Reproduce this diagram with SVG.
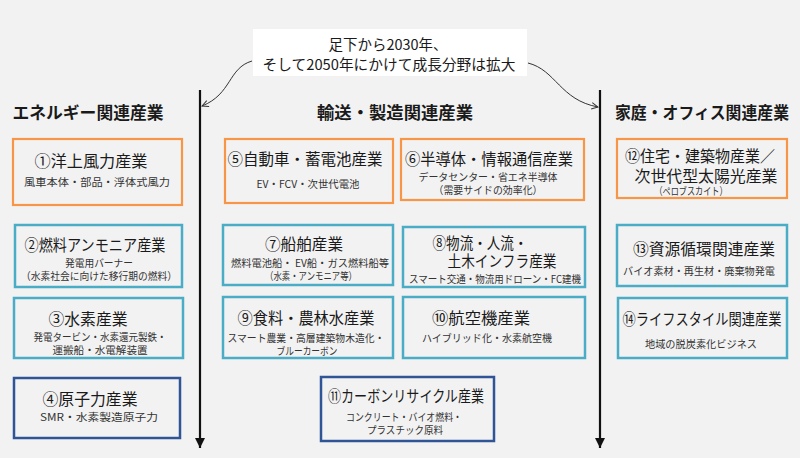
<svg xmlns="http://www.w3.org/2000/svg" width="800" height="458" viewBox="0 0 800 458">
<defs>
<style>
text{font-family:"Noto Sans CJK JP","Noto Sans",sans-serif;fill:#1a1a1a;text-anchor:middle;dominant-baseline:central}
.sec{font-size:16.5px;font-weight:bold}
.t{font-size:15.5px}
.s{font-size:10.5px;fill:#333}
.c{font-size:14.5px}
.o{fill:none;stroke:#f79646;stroke-width:2.2}
.b{fill:none;stroke:#4bacc6;stroke-width:2.5}
.d{fill:none;stroke:#2f5597;stroke-width:2.5}
.axis{stroke:#111;stroke-width:2.2;fill:none}
.curve{stroke:#333;stroke-width:1;fill:none}
</style>
<marker id="down" viewBox="0 0 10 10" refX="10" refY="5" markerWidth="10" markerHeight="10" markerUnits="userSpaceOnUse" orient="auto">
<path d="M0,0 L10,5 L0,10 Z" fill="#111"/>
</marker>
<marker id="open" viewBox="0 0 10 10" refX="9" refY="5" markerWidth="8" markerHeight="8" markerUnits="userSpaceOnUse" orient="auto">
<path d="M1,1 L9,5 L1,9" fill="none" stroke="#333" stroke-width="1.2"/>
</marker>
</defs>
<rect width="800" height="458" fill="#f2f2f2"/>

<g id="connectors">
<path class="axis" d="M200,90 V448" marker-end="url(#down)"/>
<path class="axis" d="M600,90 V448" marker-end="url(#down)"/>
<path class="curve" d="M252,61 C228,68 232,94 202,106" marker-end="url(#open)"/>
<path class="curve" d="M528,63 C556,70 560,100 598,107" marker-end="url(#open)"/>
</g>

<g id="callout">
<rect x="253" y="29" width="274" height="47" fill="#ffffff"/>
<text class="c" x="388" y="43" textLength="119" lengthAdjust="spacingAndGlyphs">足下から2030年、</text>
<text class="c" x="389" y="63" textLength="253" lengthAdjust="spacingAndGlyphs">そして2050年にかけて成長分野は拡大</text>
</g>

<g id="sec-energy"><text class="sec" x="88" y="112" textLength="151" lengthAdjust="spacingAndGlyphs">エネルギー関連産業</text></g>
<g id="sec-transport"><text class="sec" x="395" y="112" textLength="156" lengthAdjust="spacingAndGlyphs">輸送・製造関連産業</text></g>
<g id="sec-home"><text class="sec" x="702" y="112" textLength="174" lengthAdjust="spacingAndGlyphs">家庭・オフィス関連産業</text></g>

<g id="n1">
<rect class="o" x="13" y="139" width="169" height="66"/>
<text class="t" x="91" y="160" textLength="113" lengthAdjust="spacingAndGlyphs">①洋上風力産業</text>
<text class="s" x="97" y="181" textLength="146" lengthAdjust="spacingAndGlyphs">風車本体・部品・浮体式風力</text>
</g>
<g id="n2">
<rect class="b" x="15" y="225" width="167" height="62"/>
<text class="t" x="95" y="244" textLength="141" lengthAdjust="spacingAndGlyphs">②燃料アンモニア産業</text>
<text class="s" x="99" y="262" textLength="68" lengthAdjust="spacingAndGlyphs">発電用バーナー</text>
<text class="s" x="99" y="275" textLength="156" lengthAdjust="spacingAndGlyphs">（水素社会に向けた移行期の燃料）</text>
</g>
<g id="n3">
<rect class="b" x="14" y="298" width="169" height="60"/>
<text class="t" x="88" y="318" textLength="79" lengthAdjust="spacingAndGlyphs">③水素産業</text>
<text class="s" x="100" y="336" textLength="133" lengthAdjust="spacingAndGlyphs">発電タービン・水素還元製鉄・</text>
<text class="s" x="100" y="349" textLength="95" lengthAdjust="spacingAndGlyphs">運搬船・水電解装置</text>
</g>
<g id="n4">
<rect class="d" x="14" y="378" width="166" height="60"/>
<text class="t" x="90" y="398" textLength="95" lengthAdjust="spacingAndGlyphs">④原子力産業</text>
<text class="s" x="99" y="416" textLength="118" lengthAdjust="spacingAndGlyphs">SMR・水素製造原子力</text>
</g>

<g id="n5">
<rect class="o" x="225" y="139" width="168" height="64"/>
<text class="t" x="305" y="158" textLength="155" lengthAdjust="spacingAndGlyphs">⑤自動車・蓄電池産業</text>
<text class="s" x="308" y="183" textLength="103" lengthAdjust="spacingAndGlyphs">EV・FCV・次世代電池</text>
</g>
<g id="n6">
<rect class="o" x="401" y="139" width="183" height="61"/>
<text class="t" x="489" y="158" textLength="168" lengthAdjust="spacingAndGlyphs">⑥半導体・情報通信産業</text>
<text class="s" x="488" y="176" textLength="139" lengthAdjust="spacingAndGlyphs">データセンター・省エネ半導体</text>
<text class="s" x="488" y="189" textLength="109" lengthAdjust="spacingAndGlyphs">（需要サイドの効率化）</text>
</g>
<g id="n7">
<rect class="b" x="223" y="225" width="170" height="60"/>
<text class="t" x="304" y="243" textLength="78" lengthAdjust="spacingAndGlyphs">⑦船舶産業</text>
<text class="s" x="310" y="262" textLength="158" lengthAdjust="spacingAndGlyphs">燃料電池船・ EV船・ガス燃料船等</text>
<text class="s" x="311" y="275" textLength="92" lengthAdjust="spacingAndGlyphs">（水素・アンモニア等）</text>
</g>
<g id="n8">
<rect class="b" x="403" y="227" width="182" height="60"/>
<text class="t" x="480" y="242" textLength="95" lengthAdjust="spacingAndGlyphs">⑧物流・人流・</text>
<text class="t" x="502" y="260" textLength="109" lengthAdjust="spacingAndGlyphs">土木インフラ産業</text>
<text class="s" x="495" y="278" textLength="172" lengthAdjust="spacingAndGlyphs">スマート交通・物流用ドローン・FC建機</text>
</g>
<g id="n9">
<rect class="b" x="223" y="297" width="170" height="61"/>
<text class="t" x="306" y="317" textLength="137" lengthAdjust="spacingAndGlyphs">⑨食料・農林水産業</text>
<text class="s" x="306" y="337" textLength="157" lengthAdjust="spacingAndGlyphs">スマート農業・高層建築物木造化・</text>
<text class="s" x="307" y="350" textLength="61" lengthAdjust="spacingAndGlyphs">ブルーカーボン</text>
</g>
<g id="n10">
<rect class="b" x="403" y="297" width="182" height="61"/>
<text class="t" x="481" y="317" textLength="98" lengthAdjust="spacingAndGlyphs">⑩航空機産業</text>
<text class="s" x="487" y="337" textLength="130" lengthAdjust="spacingAndGlyphs">ハイブリッド化・水素航空機</text>
</g>
<g id="n11">
<rect class="d" x="321" y="377" width="173" height="64"/>
<text class="t" x="406" y="395" textLength="156" lengthAdjust="spacingAndGlyphs">⑪カーボンリサイクル産業</text>
<text class="s" x="404" y="416" textLength="116" lengthAdjust="spacingAndGlyphs">コンクリート・バイオ燃料・</text>
<text class="s" x="405" y="429" textLength="76" lengthAdjust="spacingAndGlyphs">プラスチック原料</text>
</g>

<g id="n12">
<rect class="o" x="617" y="139" width="170" height="59"/>
<text class="t" x="700" y="155" textLength="150" lengthAdjust="spacingAndGlyphs">⑫住宅・建築物産業／</text>
<text class="t" x="706" y="175" textLength="143" lengthAdjust="spacingAndGlyphs">次世代型太陽光産業</text>
<text class="s" x="691" y="190" textLength="73" lengthAdjust="spacingAndGlyphs">（ペロブスカイト）</text>
</g>
<g id="n13">
<rect class="b" x="617" y="225" width="170" height="61"/>
<text class="t" x="704" y="248" textLength="142" lengthAdjust="spacingAndGlyphs">⑬資源循環関連産業</text>
<text class="s" x="699" y="270" textLength="152" lengthAdjust="spacingAndGlyphs">バイオ素材・再生材・廃棄物発電</text>
</g>
<g id="n14">
<rect class="b" x="618" y="298" width="169" height="60"/>
<text class="t" x="702" y="318" textLength="159" lengthAdjust="spacingAndGlyphs">⑭ライフスタイル関連産業</text>
<text class="s" x="701" y="343" textLength="112" lengthAdjust="spacingAndGlyphs">地域の脱炭素化ビジネス</text>
</g>
</svg>
